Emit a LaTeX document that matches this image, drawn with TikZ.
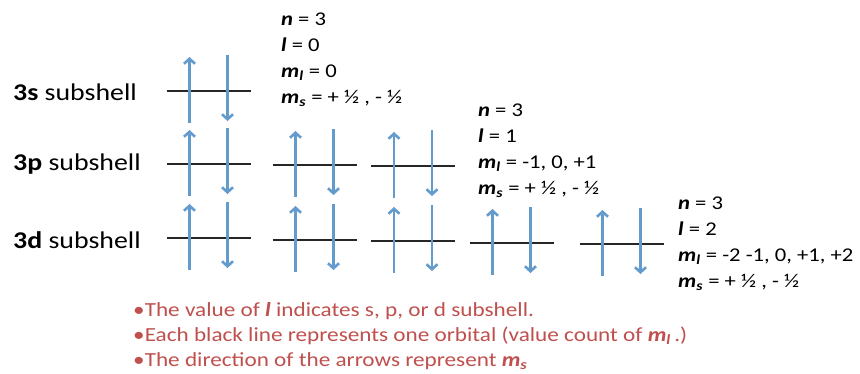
\documentclass[tikz,border=0pt]{standalone}
\usepackage{fontspec}
\setmainfont{Carlito}[FakeStretch=1.16]
\usetikzlibrary{arrows.meta}
\definecolor{arrowblue}{RGB}{100,155,205}
\definecolor{notered}{RGB}{192,80,77}
\newcommand\bi[1]{\textbf{\textit{#1}}}
\newcommand\mq[1]{\bi{m}\textsubscript{\bi{#1}}}
\newcommand\orbital[3]{%
  \coordinate (#1-l) at (#2-42,#3);
  \coordinate (#1-r) at (#2+42,#3);
  \coordinate (#1-ub) at (#2-19,#3+32);
  \coordinate (#1-ut) at (#2-19,#3-34);
  \coordinate (#1-dt) at (#2+19,#3-36);
  \coordinate (#1-db) at (#2+19,#3+30);
  \draw[orb] (#1-l) -- (#1-r);
  \draw[spin] (#1-ub) -- (#1-ut);
  \draw[spin] (#1-dt) -- (#1-db);
}
\begin{document}
\begin{tikzpicture}[x=1pt,y=-1pt,
  orb/.style={draw=black!85, line width=1.8pt},
  spin/.style={draw=arrowblue, line width=2.6pt, -{Straight Barb[length=5pt,width=11pt,line width=2.6pt]}},
  lbl/.style={anchor=west, font=\fontsize{24}{28}\selectfont, inner sep=0pt},
  qn/.style={anchor=north west, font=\fontsize{19.5}{25.8}\selectfont, inner sep=0pt, align=left},
  note/.style={anchor=north west, font=\fontsize{20}{25}\selectfont, inner sep=0pt, align=left, text=notered}
]
\useasboundingbox[fill=white] (0,0) rectangle (860,373);
% subshell labels
\node[lbl] (l3s) at (13,92) {\textbf{3s} subshell};
\node[lbl] (l3p) at (13,164) {\textbf{3p} subshell};
\node[lbl] (l3d) at (13,240) {\textbf{3d} subshell};
% orbitals
\orbital{s1}{208.5}{91}
\orbital{p1}{208.5}{164}
\orbital{p2}{314.5}{165}
\orbital{p3}{413}{166}
\orbital{d1}{208.5}{238}
\orbital{d2}{314.5}{240}
\orbital{d3}{413}{241}
\orbital{d4}{511.5}{243}
\orbital{d5}{621.5}{244}
% quantum numbers
\node[qn] (qs) at (281,13) {\bi{n} = 3\\ \bi{l} = 0\\ \mq{l} = 0\\ \mq{s} = + ½ , - ½};
\node[qn] (qp) at (478,104) {\bi{n} = 3\\ \bi{l} = 1\\ \mq{l} = -1, 0, +1\\ \mq{s} = + ½ , - ½};
\node[qn] (qd) at (678,197) {\bi{n} = 3\\ \bi{l} = 2\\ \mq{l} = -2 -1, 0, +1, +2\\ \mq{s} = + ½ , - ½};
% notes
\node[note] (notes) at (133,302) {•The value of \bi{l} indicates s, p, or d subshell.\\
•Each black line represents one orbital (value count of \mq{l}\,.)\\
•The direction of the arrows represent \mq{s}};
\end{tikzpicture}
\end{document}
